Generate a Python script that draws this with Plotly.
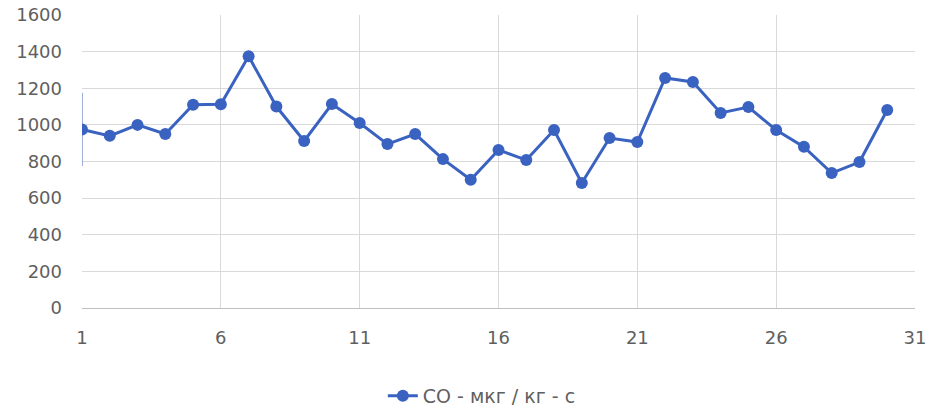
import plotly.graph_objects as go

days = list(range(1, 31))
co_values = [975, 940, 1000, 950, 1110, 1112, 1375, 1100, 912, 1114,
             1010, 895, 950, 813, 700, 863, 808, 972, 683, 928,
             906, 1256, 1234, 1065, 1097, 972, 880, 737, 797, 1081]
err_values = [200] + [0] * 29
x_ticks = [1, 6, 11, 16, 21, 26, 31]
y_ticks = [0, 200, 400, 600, 800, 1000, 1200, 1400, 1600]
series_name = "CO - мкг / кг - с"

fig = go.Figure()
fig.add_trace(go.Scatter(
    x=days, y=co_values, mode="lines+markers", name=series_name,
    line=dict(color="#3A62C0", width=3),
    marker=dict(color="#3A62C0", size=12),
    error_y=dict(type="data", array=err_values, visible=True, width=0,
                 thickness=1.5, color="#8096C8"),
))

fig.update_layout(
    width=928, height=407,
    margin=dict(l=82, r=13, t=15, b=99, autoexpand=False),
    paper_bgcolor="white", plot_bgcolor="white",
    font=dict(family="'DejaVu Sans', sans-serif", color="#5F5F5F", size=18),
    showlegend=True,
    legend=dict(orientation="h", x=0.48, xanchor="center", y=-0.235, yanchor="top",
                font=dict(size=19, color="#5F5F5F")),
    xaxis=dict(range=[1, 31], tickvals=x_ticks, showgrid=True, gridcolor="#D9D9D9",
               gridwidth=1, showline=True, linecolor="#BFBFBF", linewidth=1,
               zeroline=False, ticks="", ticklen=0, automargin=False,
               ticklabelstandoff=13),
    yaxis=dict(range=[0, 1600], tickvals=y_ticks, showgrid=True, gridcolor="#D9D9D9",
               gridwidth=1, zeroline=False, showline=False, ticks="",
               automargin=False, ticklabelstandoff=19),
)

fig.write_html("out.html", config={"displayModeBar": False},
               post_script="document.body.style.margin='0';")
